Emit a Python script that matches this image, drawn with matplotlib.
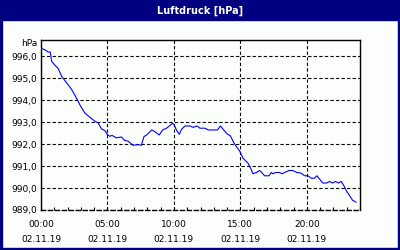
import matplotlib
matplotlib.use("Agg")
import matplotlib.pyplot as plt
from matplotlib.patches import Rectangle
from matplotlib.ticker import FixedLocator, MultipleLocator

# Luftdruck-Verlauf am 02.11.19 (Stunden seit 00:00, Werte in hPa)
stunden = [0.0, 0.3, 0.55, 0.7, 0.8, 1.05, 1.3, 1.55, 1.92, 2.3, 2.67, 2.92,
           3.3, 3.67, 4.05, 4.3, 4.55, 4.8, 5.0, 5.17, 5.35, 5.67, 6.05, 6.3,
           6.55, 6.92, 7.3, 7.55, 7.75, 7.95, 8.33, 8.57, 8.9, 9.15, 9.45,
           9.65, 9.9, 10.02, 10.2, 10.4, 10.58, 10.83, 11.2, 11.45, 11.75,
           11.95, 12.33, 12.58, 12.95, 13.28, 13.5, 13.7, 14.0, 14.25, 14.5,
           14.75, 14.95, 15.2, 15.57, 15.77, 15.95, 16.2, 16.45, 16.65, 16.82,
           17.15, 17.33, 17.45, 17.65, 17.95, 18.15, 18.33, 18.65, 18.95,
           19.25, 19.58, 19.83, 20.08, 20.33, 20.58, 20.75, 21.0, 21.2, 21.5,
           21.7, 21.95, 22.15, 22.4, 22.58, 22.75, 23.0, 23.25, 23.45, 23.7]
druck = [996.38, 996.3, 996.2, 996.2, 995.78, 995.6, 995.44, 995.1, 994.8,
         994.5, 994.1, 993.8, 993.42, 993.23, 993.05, 992.97, 992.7, 992.62,
         992.44, 992.36, 992.4, 992.29, 992.33, 992.17, 992.14, 991.95,
         991.98, 991.95, 992.35, 992.42, 992.65, 992.57, 992.42, 992.65,
         992.73, 992.83, 992.95, 992.88, 992.63, 992.45, 992.68, 992.83,
         992.83, 992.77, 992.83, 992.73, 992.73, 992.65, 992.65, 992.65,
         992.83, 992.68, 992.47, 992.38, 992.07, 991.85, 991.68, 991.36,
         991.14, 990.91, 990.65, 990.71, 990.8, 990.68, 990.56, 990.56,
         990.71, 990.65, 990.71, 990.71, 990.65, 990.71, 990.8, 990.8,
         990.71, 990.68, 990.56, 990.56, 990.45, 990.45, 990.56, 990.38,
         990.23, 990.23, 990.3, 990.23, 990.3, 990.23, 990.3, 990.15,
         989.85, 989.62, 989.44, 989.36]

y_ticks = [989, 990, 991, 992, 993, 994, 995, 996]
x_ticks = [0, 5, 10, 15, 20]
x_labels = ["00:00\n02.11.19", "05:00\n02.11.19", "10:00\n02.11.19",
            "15:00\n02.11.19", "20:00\n02.11.19"]

navy = "#000080"
W, H = 400, 250

fig = plt.figure(figsize=(4, 2.5), dpi=100)
fig.patch.set_facecolor("#fcfefc")

# Titelleiste und Rahmen
fig.patches.append(Rectangle((0, 1 - 20 / H), 1, 20 / H, transform=fig.transFigure,
                             color=navy, zorder=0))
fig.patches.append(Rectangle((0, 0), 2 / W, 1, transform=fig.transFigure, color=navy))
fig.patches.append(Rectangle((1 - 2 / W, 0), 2 / W, 1, transform=fig.transFigure, color=navy))
fig.patches.append(Rectangle((0, 0), 1, 2 / H, transform=fig.transFigure, color=navy))
fig.text(0.5, 1 - 10.5 / H, "Luftdruck [hPa]", color="white", fontsize=7,
         fontweight="bold", ha="center", va="center")

ax = fig.add_axes([41 / W, 40 / H, 319 / W, 170 / H])
ax.set_facecolor("#fcfefc")
ax.plot(stunden, druck, color="#0000ff", lw=0.8)

ax.set_xlim(0, 24)
ax.set_ylim(989, 996.75)
ax.yaxis.set_major_locator(FixedLocator(y_ticks))
ax.set_yticklabels([f"{v:.1f}".replace(".", ",") for v in y_ticks])
ax.set_xticks(x_ticks)
ax.set_xticklabels(x_labels, linespacing=1.75)
ax.xaxis.set_minor_locator(MultipleLocator(1))

ax.grid(True, color="black", linestyle=(0, (3, 2)), linewidth=0.8)
ax.tick_params(axis="y", length=0, pad=3, labelsize=6.5, colors="black")
ax.tick_params(axis="x", which="both", direction="in", length=2.5, width=0.8,
               pad=7.5, labelsize=6.5)
for s in ["left", "right", "top"]:
    ax.spines[s].set_linewidth(1.0)
ax.spines["bottom"].set_linestyle((0, (3, 2)))
ax.spines["bottom"].set_linewidth(1.0)

fig.text(37 / W, 1 - 44 / H, "hPa", fontsize=6.5, ha="right", va="center")

plt.savefig("out.png", dpi=100)
